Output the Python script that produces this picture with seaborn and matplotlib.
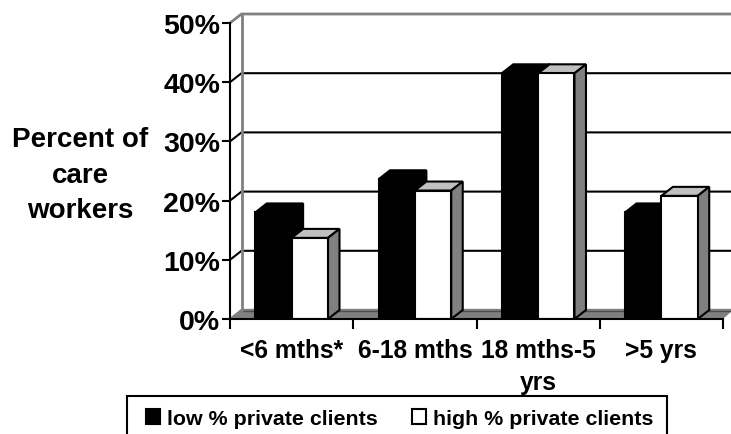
import pandas as pd
import numpy as np
import matplotlib
matplotlib.use('Agg')
import matplotlib.pyplot as plt
import seaborn as sns
from matplotlib.patches import Polygon, Rectangle

periods = ['<6 mths*', '6-18 mths', '18 mths-5\nyrs', '>5 yrs']
low_pct = [18, 23.6, 41.5, 18]
high_pct = [13.7, 21.7, 41.5, 20.8]
group_names = ['low % private clients', 'high % private clients']
y_ticks = [0, 10, 20, 30, 40, 50]

df = pd.DataFrame({'period': periods * 2,
                   'pct': low_pct + high_pct,
                   'group': [group_names[0]] * 4 + [group_names[1]] * 4})

sns.set_style('white')
plt.rcParams['font.family'] = ['Liberation Sans', 'DejaVu Sans']
plt.rcParams['font.weight'] = 'bold'

W, H = 731, 435
fig = plt.figure(figsize=(W / 100, H / 100), dpi=100)
ax = fig.add_axes([230 / W, (H - 320) / H, 493 / W, 296 / H])

sns.barplot(data=df, x='period', y='pct', hue='group', palette=['black', 'white'],
            width=0.59, edgecolor='black', linewidth=1.5, saturation=1, ax=ax)
ax.set_xlim(-0.5, 3.5)
ax.set_ylim(0, 50)
ax.patch.set_visible(False)

# depth of the fake 3d, in data units
dx = 11.5 / (493 / 4)
dy = 9 / (296 / 50)
lw = 1.5
GREY = '#808080'
x0, x1 = -0.5, 3.5

# floor and back wall
ax.add_patch(Polygon([(x0, 0), (x0 + dx, dy + 0.2), (x1 + dx, dy + 0.2), (x1, 0)], closed=True,
                     facecolor=GREY, edgecolor='none', clip_on=False, zorder=0.5))
ax.plot([x0 + dx, x1 + dx], [dy - 0.1, dy - 0.1], color='#4d4d4d', lw=1, clip_on=False, zorder=0.55)
for v in y_ticks[1:-1]:
    ax.plot([x0, x0 + dx, x1 + dx], [v, v + dy, v + dy], color='black', lw=lw,
            clip_on=False, zorder=0.6)
ax.plot([x0, x0 + dx, x1 + dx], [50, 50 + dy, 50 + dy], color=GREY, lw=2, clip_on=False, zorder=0.7)
ax.plot([x0 + dx, x0 + dx], [dy, 50 + dy], color=GREY, lw=2, clip_on=False, zorder=0.7)
ax.plot([x0, x0 + dx], [0, dy], color=GREY, lw=lw, clip_on=False, zorder=0.7)

# top and side faces built from the drawn bars
for i, cont in enumerate(ax.containers):
    top_col = 'black' if i == 0 else '#c0c0c0'
    side_col = 'black' if i == 0 else GREY
    for bar in cont:
        l, h = bar.get_x(), bar.get_height()
        r = l + bar.get_width()
        ax.add_patch(Polygon([(l, h), (l + dx, h + dy), (r + dx, h + dy), (r, h)], closed=True,
                             facecolor=top_col, edgecolor='black', lw=lw, zorder=2 + i, clip_on=False))
        ax.add_patch(Polygon([(r, 0), (r + dx, dy), (r + dx, h + dy), (r, h)], closed=True,
                             facecolor=side_col, edgecolor='black', lw=lw, zorder=2 + i, clip_on=False))
        bar.set_zorder(2.1 + i)

for name in ['top', 'right']:
    ax.spines[name].set_visible(False)
for name in ['left', 'bottom']:
    ax.spines[name].set_linewidth(lw)
    ax.spines[name].set_color('black')
    ax.spines[name].set_zorder(6)

ax.set_yticks(y_ticks)
ax.set_yticklabels([f'{v}%' for v in y_ticks], fontsize=20.5, fontweight='bold')
ax.tick_params(axis='y', length=6, width=lw, color='black', pad=1, left=True, labelcolor='black')
ax.tick_params(axis='x', which='major', length=0, pad=13.5, labelsize=17.7, labelcolor='black')
ax.set_xticks([-0.5, 0.5, 1.5, 2.5, 3.5], minor=True)
ax.tick_params(axis='x', which='minor', length=7, width=lw, color='black', bottom=True)
for t in ax.get_xticklabels():
    t.set_fontweight('bold')
    t.set_linespacing(1.42)

ax.set_xlabel('')
ax.set_ylabel('Percent of\ncare\nworkers', rotation=0, fontsize=20, fontweight='bold',
              ha='center', va='center', linespacing=1.49, color='black')
ax.yaxis.set_label_coords(-0.304, 0.488)

# legend box runs off the bottom of the figure
fig.add_artist(Rectangle((127 / W, -0.05), 540 / W, (H - 397) / H + 0.05, transform=fig.transFigure,
                         facecolor='white', edgecolor='black', lw=lw, zorder=-1))
sns.move_legend(ax, 'upper left', bbox_to_anchor=(146 / W, (H - 410) / H),
                bbox_transform=fig.transFigure, ncols=2, title=None, frameon=False,
                fontsize=15.4, handlelength=0.65, handleheight=0.65, handletextpad=0.33,
                columnspacing=1.6, borderpad=0, borderaxespad=0)
leg = ax.get_legend()
leg.set_zorder(10)
for t in leg.get_texts():
    t.set_fontweight('bold')
    t.set_color('black')

fig.savefig('out.png', dpi=100)
